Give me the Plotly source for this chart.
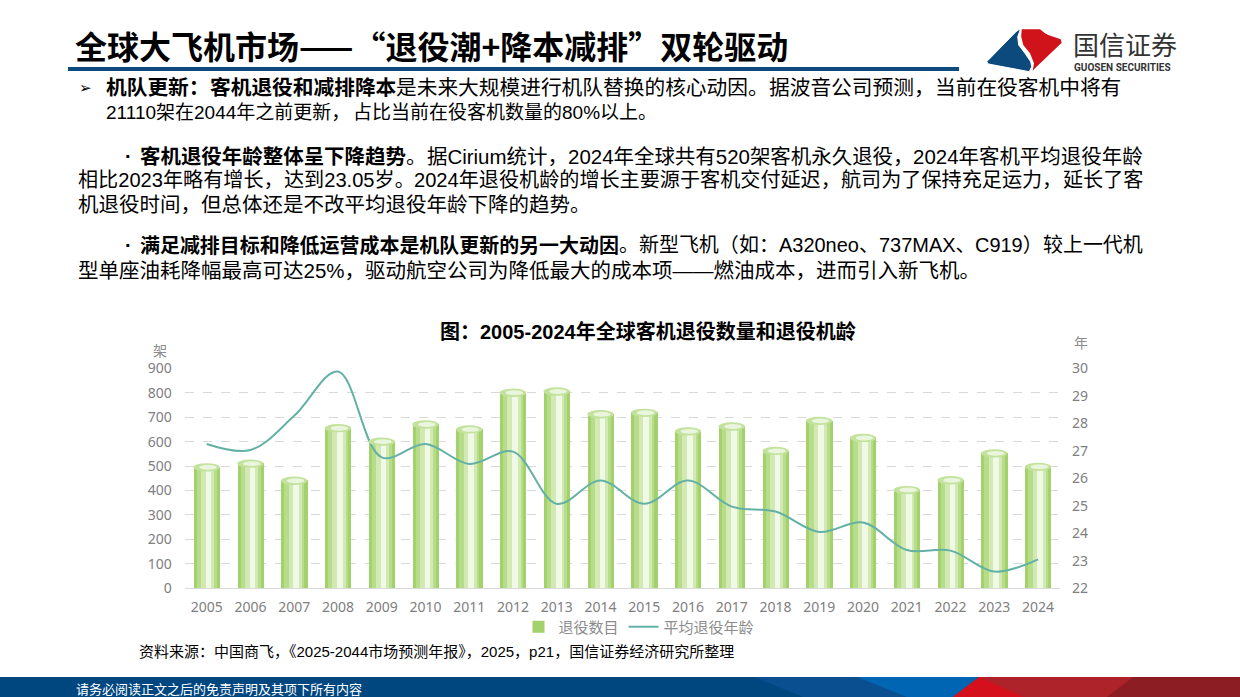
import plotly.graph_objects as go

W, H = 1240, 697

# ---------------- data ----------------
years = list(range(2005, 2025))
retired_count = [495, 510, 440, 655, 600, 670, 650, 800, 805, 712, 718, 642, 662, 562, 685, 615, 402, 442, 552, 497]
avg_retire_age = [27.25, 27.03, 28.27, 29.88, 26.76, 27.25, 26.52, 26.97, 25.07, 25.92,
                  25.07, 25.92, 24.97, 24.79, 24.05, 24.39, 23.39, 23.37, 22.61, 23.05]
left_ticks = list(range(0, 901, 100))
right_ticks = list(range(22, 31))
year_labels = [str(y) for y in years]

series_bar_name = "退役数目"
series_line_name = "平均退役年龄"
chart_title = "图：2005-2024年全球客机退役数量和退役机龄"
left_unit = "架"
right_unit = "年"

# ---------------- helpers ----------------
def px(x):
    return x / W


def py(y):
    return 1 - y / H


def path(points):
    return "M " + " L ".join(f"{px(x):.5f},{py(y):.5f}" for x, y in points) + " Z"


F_BODY = "Liberation Sans, Noto Sans CJK SC, sans-serif"
F_CJK = "Noto Sans CJK SC, sans-serif"

AW = {str(d): 556 for d in range(10)}
AW.update({'.': 278, '%': 889, ',': 278, '-': 333, '·': 278, 'C': 722, 'i': 222, 'r': 333,
           'u': 556, 'm': 833, 'A': 667, 'n': 556, 'e': 556, 'o': 556, 'M': 833, 'X': 667,
           'p': 556, ' ': 278, '—': 1000})
PUNCT = set('，。：、（）')


def is_full(c):
    return ord(c) >= 0x2E80 or c in '“”《》—'


def adv(c, size):
    if is_full(c):
        return size
    return AW.get(c, 556) / 1000.0 * size


annotations = []


def add_text(text, x, y, size, color="#000000", family=F_CJK, xanchor="left", bold=False):
    annotations.append(dict(
        x=px(x), y=py(y), xref="paper", yref="paper", showarrow=False,
        text=f"<b>{text}</b>" if bold else text, xanchor=xanchor, yanchor="middle",
        font=dict(size=size, color=color, family=family)))


def add_line(segments, x0, y, size, family=F_BODY, end=None):
    """A text line; justified lines get the size that makes them span x0..end."""
    chars = [(c, b) for t, b in segments for c in t]
    if end:
        unit = sum(adv(c, 1.0) for c, _ in chars)
        size = (end - x0) / unit
    advs = [adv(c, size) for c, _ in chars]
    n = len(chars)
    start = 0
    for i, (c, b) in enumerate(chars):
        last = i == n - 1
        if last or c in PUNCT or chars[i + 1][1] != b:
            txt = "".join(ch for ch, _ in chars[start:i + 1])
            x = x0 + sum(advs[:start])
            add_text(txt, x, y, size, family=family, bold=chars[start][1])
            start = i + 1


# ---------------- figure ----------------
fig = go.Figure()

bar_layers = [
    (0.60, "#a3d16c", 0.0),
    (0.46, "#b7dc8a", 0.0),
    (0.30, "#d2e9b3", 0.02),
    (0.13, "#f0f8e6", 0.04),
]
for k, (w, col, shift) in enumerate(bar_layers):
    fig.add_trace(go.Bar(
        x=years, y=retired_count, width=w, offset=-w / 2 + shift,
        marker=dict(color=col, line=dict(width=0)),
        name=series_bar_name, showlegend=(k == 0), hoverinfo="skip",
    ))

fig.add_trace(go.Scatter(
    x=years, y=avg_retire_age, yaxis="y2", mode="lines", name=series_line_name,
    line=dict(color="#63b1a5", width=2, shape="spline", smoothing=1.0),
))

shapes = []
# cylinder tops derived from the data
for yr, v in zip(years, retired_count):
    shapes.append(dict(type="circle", xref="x", yref="y", x0=yr - 0.30, x1=yr + 0.30,
                       y0=v - 17, y1=v + 17, fillcolor="#c3e29c", line=dict(width=0)))
    shapes.append(dict(type="circle", xref="x", yref="y", x0=yr - 0.17, x1=yr + 0.23,
                       y0=v - 10, y1=v + 10, fillcolor="#eaf5dd", line=dict(width=0)))

# title underline
shapes.append(dict(type="rect", xref="paper", yref="paper", x0=px(68), x1=px(959),
                   y0=py(71), y1=py(67), fillcolor="#0c4a80", line=dict(width=0)))

# logo
logo_red = [(1021.7, 29.3), (1040, 29.3), (1045, 33.3), (1048.3, 35), (1060.7, 39.3), (1061.7, 42.7),
            (1035, 68.3), (1032.7, 70.7), (1034, 63.3), (1030, 53.3), (1023.3, 45), (1021.2, 36.7)]
logo_blue = [(986.7, 61.7), (1016, 31.7), (1019.3, 29.3), (1020, 30.7), (1017.7, 36.7), (1018.7, 45),
             (1025, 53.3), (1030.7, 61.7), (1031.7, 66.7), (1029.3, 71.7), (988.3, 64)]
shapes.append(dict(type="path", xref="paper", yref="paper", path=path(logo_red),
                   fillcolor="#d0121b", line=dict(width=0)))
shapes.append(dict(type="path", xref="paper", yref="paper", path=path(logo_blue),
                   fillcolor="#0c4a7e", line=dict(color="white", width=1)))

# footer bar
footer = [
    ([(0, 677), (1240, 677), (1240, 697), (0, 697)], "#00467f"),
    ([(754, 677), (979, 677), (953, 697), (803, 697)], "#0a4f90"),
    ([(857, 677), (979, 677), (953, 697), (907, 697)], "#0066b3"),
    ([(979, 677), (1240, 677), (1240, 697), (953, 697)], "#ae2229"),
    ([(979, 677), (1024, 697), (953, 697)], "#d5101c"),
    ([(1133, 677), (1240, 677), (1240, 697), (1107, 697)], "#8c1d22"),
]
for pts, col in footer:
    shapes.append(dict(type="path", xref="paper", yref="paper", path=path(pts),
                       fillcolor=col, line=dict(width=0)))

# ---------------- texts ----------------
add_text("全球大飞机市场——“退役潮+降本减排”双轮驱动", 73, 45, 32, bold=True, family=F_CJK)
add_text("国信证券", 1071, 44, 26, color="#333333", family=F_CJK)
add_text("<b>GUOSEN SECURITIES</b>", 1072, 67, 10, color="#333333", family="Roboto, sans-serif")

add_text("➢", 77, 88, 15, family="DejaVu Sans, sans-serif")
add_line([("机队更新：客机退役和减排降本", True),
          ("是未来大规模进行机队替换的核心动因。据波音公司预测，当前在役客机中将有", False)],
         104, 88, 20, end=1119)
add_line([("21110架在2044年之前更新，占比当前在役客机数量的80%以上。", False)],
         104, 113, 19)

add_text("·", 123, 156, 20, family=F_BODY, bold=True)
add_line([("客机退役年龄整体呈下降趋势", True),
          ("。据Cirium统计，2024年全球共有520架客机永久退役，2024年客机平均退役年龄", False)],
         138, 156, 20.5, end=1141)
add_line([("相比2023年略有增长，达到23.05岁。2024年退役机龄的增长主要源于客机交付延迟，航司为了保持充足运力，延长了客", False)],
         76, 180, 20.5, end=1141)
add_line([("机退役时间，但总体还是不改平均退役年龄下降的趋势。", False)],
         76, 204, 20.5)

add_text("·", 123, 245, 20, family=F_BODY, bold=True)
add_line([("满足减排目标和降低运营成本是机队更新的另一大动因", True),
          ("。新型飞机（如：A320neo、737MAX、C919）较上一代机", False)],
         138, 245, 20.5, end=1141)
add_line([("型单座油耗降幅最高可达25%，驱动航空公司为降低最大的成本项——燃油成本，进而引入新飞机。", False)],
         76, 270, 20.5)

add_text(chart_title, 648, 331, 20, bold=True, family=F_BODY, xanchor="center")
add_text(left_unit, 160, 350, 14, color="#8c8c8c", xanchor="center")
add_text(right_unit, 1081, 342, 14, color="#8c8c8c", xanchor="center")

add_text("资料来源：中国商飞，《2025-2044市场预测年报》，2025，p21，国信证券经济研究所整理",
         137, 651, 15, family=F_BODY)
add_text("请务必阅读正文之后的免责声明及其项下所有内容", 74, 688, 13, color="#ffffff", family=F_CJK)

tickfont = dict(size=14, color="#808080", family="Noto Sans, sans-serif")

fig.update_layout(
    width=W, height=H,
    margin=dict(l=0, r=0, t=0, b=0, pad=0, autoexpand=False),
    paper_bgcolor="white", plot_bgcolor="white",
    barmode="overlay", bargap=0,
    showlegend=True,
    legend=dict(orientation="h", x=px(639), xanchor="center", y=py(627), yanchor="middle",
                font=dict(size=15, color="#8c8c8c", family=F_CJK), itemwidth=30,
                bgcolor="rgba(0,0,0,0)", traceorder="normal"),
    xaxis=dict(domain=[px(184.8), px(1059.9)], range=[2004.5, 2024.5],
               tickmode="array", tickvals=years, ticktext=year_labels, automargin=False,
               showgrid=False, zeroline=False, showline=True, linecolor="#d9d9d9", linewidth=1,
               ticks="", tickfont=tickfont, ticklabelstandoff=6, fixedrange=True),
    yaxis=dict(domain=[py(588.3), py(368.3)], range=[0, 900], tickmode="array", tickvals=left_ticks,
               showgrid=True, gridcolor="#d9d9d9", griddash="dash", gridwidth=1, automargin=False,
               zeroline=False, showline=False, ticks="", tickfont=tickfont, ticklabelstandoff=12),
    yaxis2=dict(overlaying="y", side="right", range=[22, 30], tickmode="array", tickvals=right_ticks,
                showgrid=False, zeroline=False, showline=False, ticks="", tickfont=tickfont,
                ticklabelstandoff=11, automargin=False),
    shapes=shapes,
    annotations=annotations,
)

fig.write_html("out.html", config={"displayModeBar": False},
               post_script="document.body.style.margin='0';document.body.style.overflow='hidden';")
